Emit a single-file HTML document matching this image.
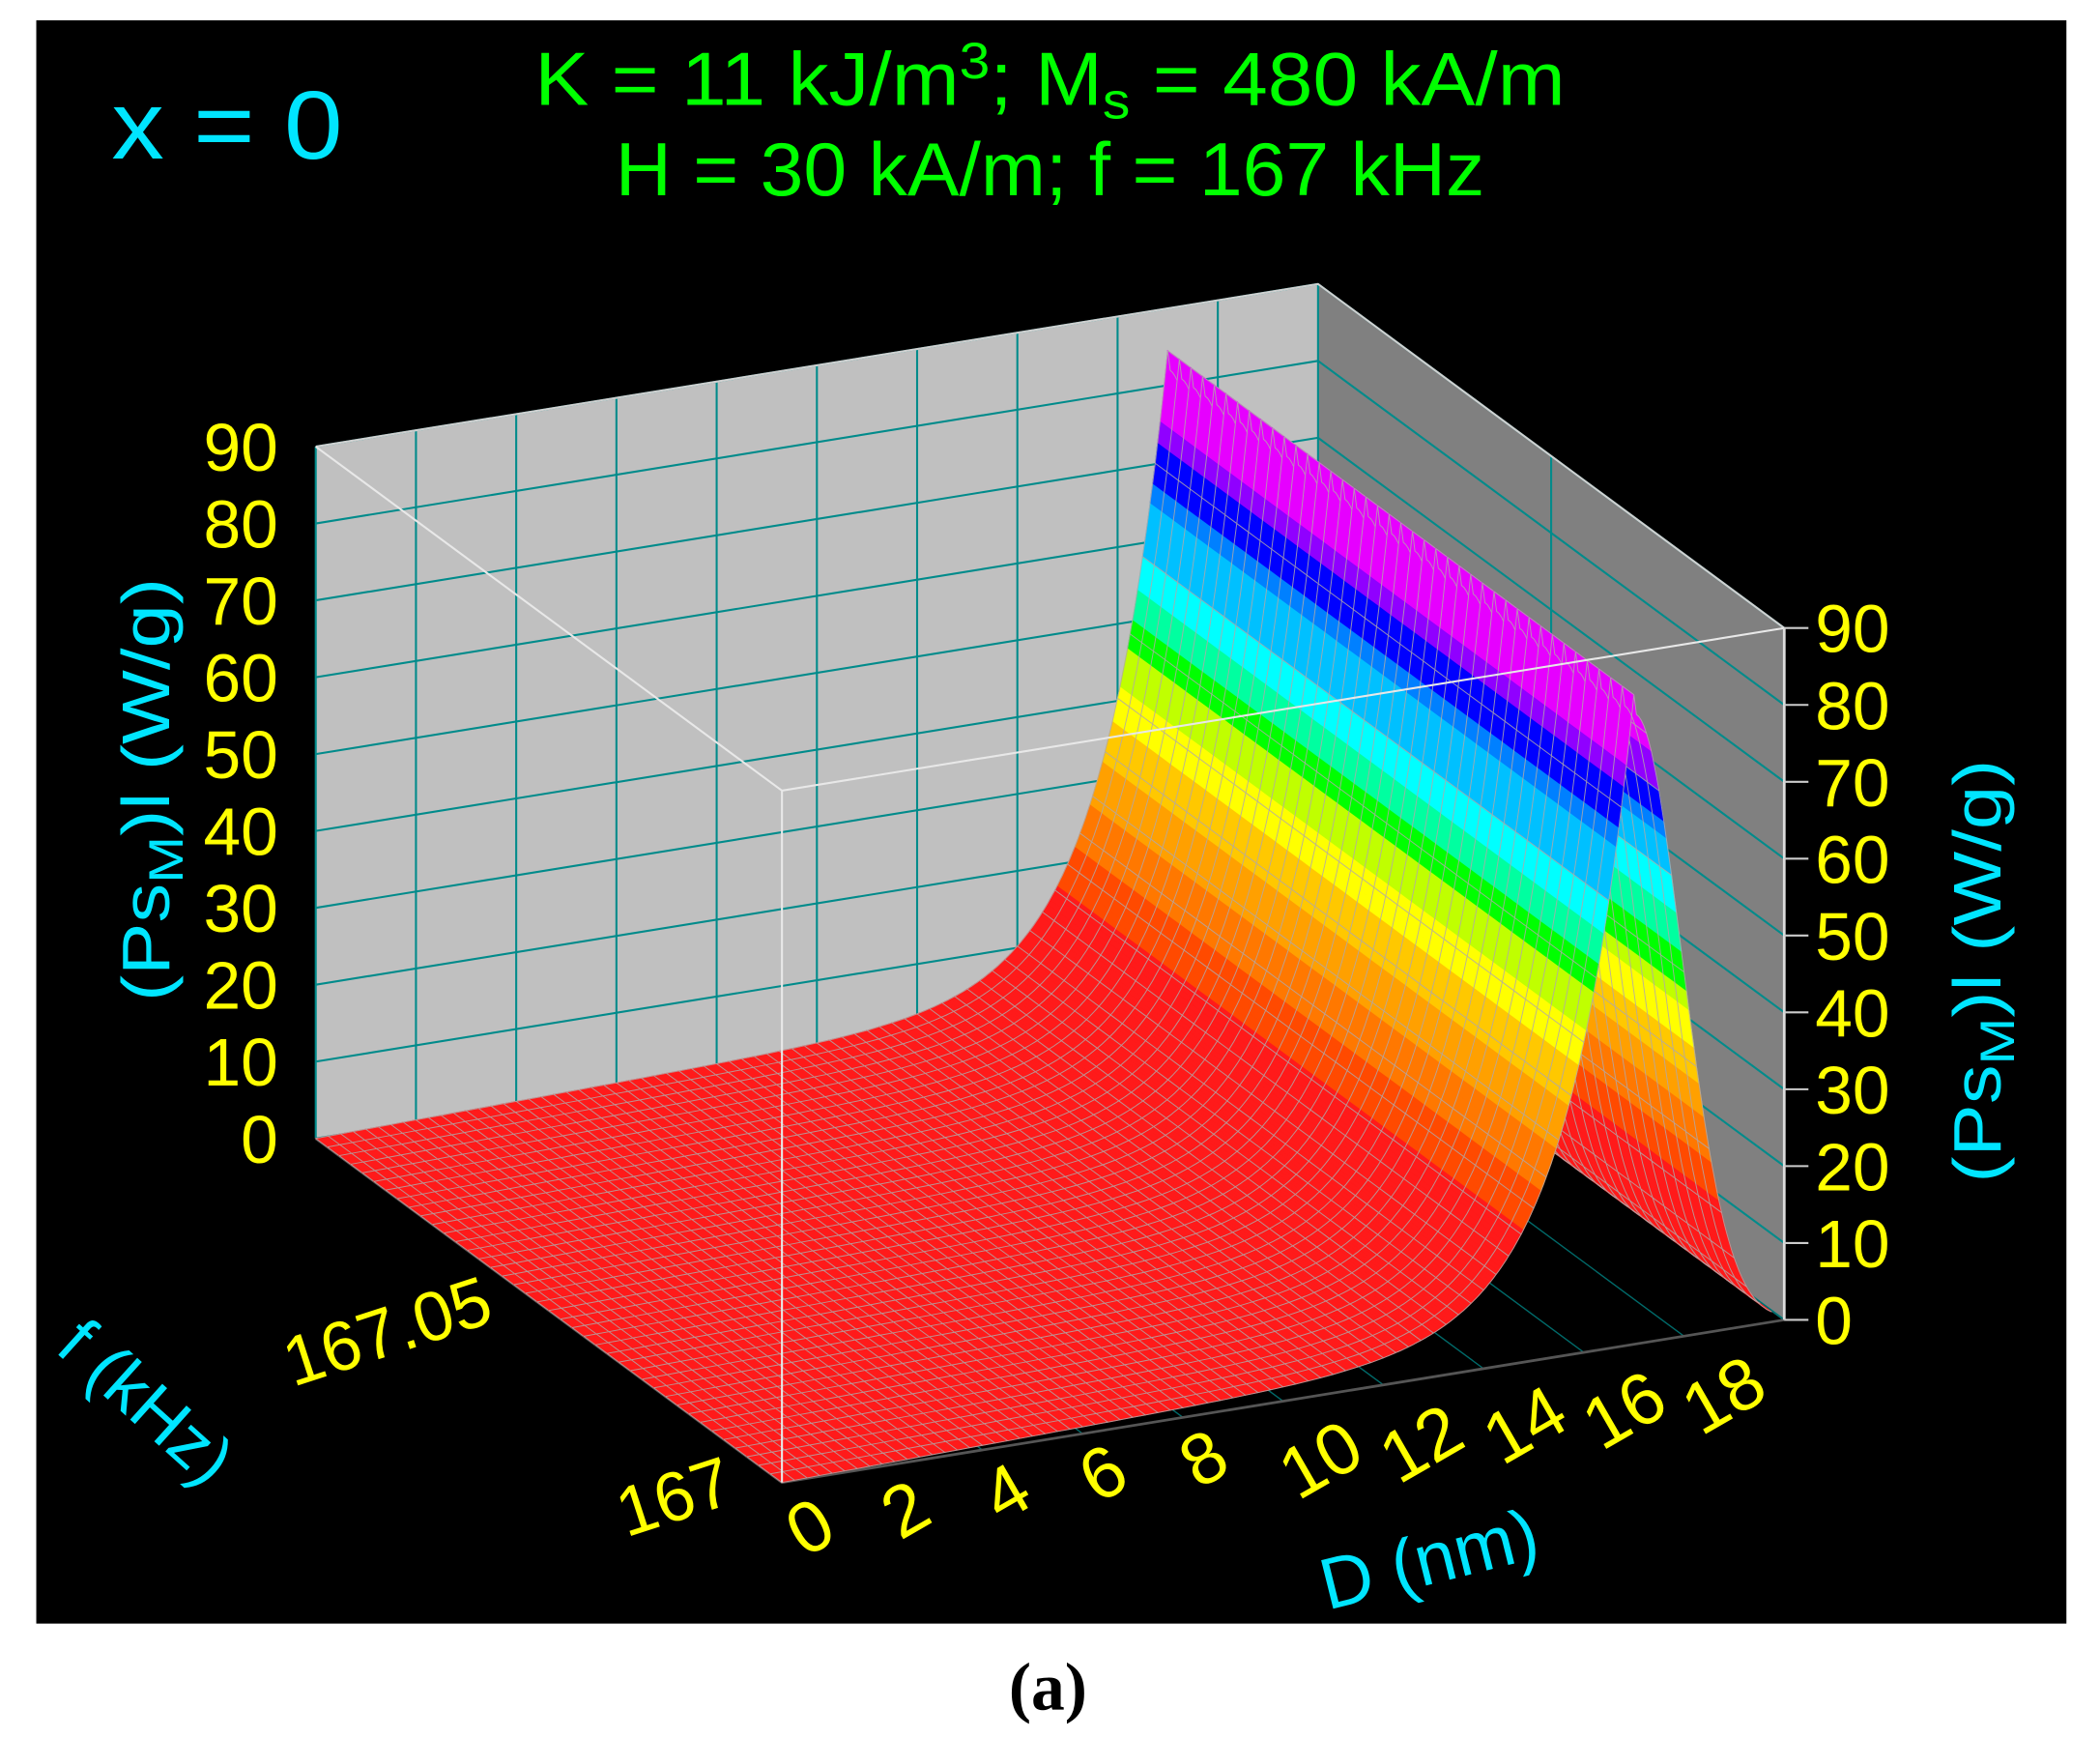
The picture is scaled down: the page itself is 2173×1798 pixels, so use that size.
<!DOCTYPE html>
<html><head><meta charset="utf-8"><style>
html,body{margin:0;padding:0;background:#fff}
svg{display:block}
</style></head><body>
<svg id="s" width="2173" height="1798" viewBox="0 0 1563 1293" xmlns="http://www.w3.org/2000/svg">
<rect x="0" y="0" width="1563" height="1293" fill="#fff"/>
<rect x="27" y="15" width="1511" height="1193" fill="#000"/>
<g id="walls"></g>
<g id="surf"></g>
<g id="front"></g>
<g font-family="Liberation Sans, Arial, sans-serif">
<text x="83" y="118" font-size="72" fill="#00e5ff" textLength="172" lengthAdjust="spacingAndGlyphs">x = 0</text>
<text x="398" y="78" font-size="56" fill="#00ff00" textLength="767" lengthAdjust="spacingAndGlyphs">K = 11 kJ/m<tspan font-size="38" dy="-20">3</tspan><tspan dy="20">;  M</tspan><tspan font-size="38" dy="10">s</tspan><tspan dy="-10"> = 480 kA/m</tspan></text>
<text x="458" y="145" font-size="56" fill="#00ff00" textLength="647" lengthAdjust="spacingAndGlyphs">H = 30 kA/m; f = 167 kHz</text>
<g id="ticks" font-size="50" fill="#ffff00"></g>
<text transform="translate(126,745) rotate(-90)" font-size="50" fill="#00e5ff" textLength="315" lengthAdjust="spacingAndGlyphs">(Ps<tspan font-size="36" dy="10">M</tspan><tspan dy="-10">)l (W/g)</tspan></text>
<text transform="translate(1489,880) rotate(-90)" font-size="50" fill="#00e5ff" textLength="315" lengthAdjust="spacingAndGlyphs">(Ps<tspan font-size="36" dy="10">M</tspan><tspan dy="-10">)l (W/g)</tspan></text>
<text transform="translate(40,1005) rotate(42)" font-size="52" fill="#00e5ff">f (kHz)</text>
<text transform="translate(218,1032) rotate(-18)" font-size="52" fill="#ffff00">167.05</text>
<text transform="translate(466,1144) rotate(-18)" font-size="52" fill="#ffff00">167</text>
<text transform="translate(988,1198) rotate(-14)" font-size="54" fill="#00e5ff">D (nm)</text>
</g>
<text x="780" y="1272" text-anchor="middle" font-family="Liberation Serif, serif" font-weight="bold" font-size="50" fill="#000">(a)</text>
</svg>
<script>
var NS="http://www.w3.org/2000/svg";
function el(p,t,a){var e=document.createElementNS(NS,t);for(var k in a)e.setAttribute(k,a[k]);p.appendChild(e);return e;}
function P(d,u,z){return [582+37.3*d-347*u, 1103-6.05*d-256*u-5.72*z];}
var W=document.getElementById('walls');
function pts(a){return a.map(function(p){return p[0].toFixed(1)+','+p[1].toFixed(1)}).join(' ');}
el(W,'polygon',{points:pts([P(0,1,0),P(20,1,0),P(20,1,90),P(0,1,90)]),fill:'#c0c0c0'});
el(W,'polygon',{points:pts([P(20,1,0),P(20,0,0),P(20,0,90),P(20,1,90)]),fill:'#808080'});
for(var z=0;z<=90;z+=10){var a=P(0,1,z),b=P(20,1,z),c=P(20,0,z);
 el(W,'line',{x1:a[0],y1:a[1],x2:b[0],y2:b[1],stroke:'#008b8b','stroke-width':1.5});
 el(W,'line',{x1:b[0],y1:b[1],x2:c[0],y2:c[1],stroke:'#008b8b','stroke-width':1.5});}
for(var d=0;d<=20;d+=2){var a=P(d,1,0),b=P(d,1,90);el(W,'line',{x1:a[0],y1:a[1],x2:b[0],y2:b[1],stroke:'#008b8b','stroke-width':1.5});
 var f0=P(d,0,0);el(W,'line',{x1:a[0],y1:a[1],x2:f0[0],y2:f0[1],stroke:'#006a6a','stroke-width':1});}
var m1=P(20,0.5,0),m2=P(20,0.5,90);el(W,'line',{x1:m1[0],y1:m1[1],x2:m2[0],y2:m2[1],stroke:'#008b8b','stroke-width':1.5});
var t1=P(0,1,90),t2=P(20,1,90),t3=P(20,0,90);
el(W,'polyline',{points:pts([t1,t2,t3]),fill:'none',stroke:'#d0d0d0','stroke-width':1.5});
var b0=P(0,1,0),b1=P(0,0,0),b2=P(20,0,0);
el(W,'polyline',{points:pts([b0,b1,b2]),fill:'none',stroke:'#555','stroke-width':2});
function zf(d){if(d<=17)return 82*Math.exp(-(17-d)/1.3)+2.5*d/17;var t=(d-17)/1.35;return 82*Math.exp(-t*t);}
function col(z){var s=[[17,'#ff1a1a'],[22,'#ff4a00'],[27,'#ff7800'],[32,'#ffa000'],[37,'#ffc800'],[42,'#ffff00'],[46,'#c0ff00'],[50,'#00ff00'],[54,'#00ffa0'],[59,'#00ffff'],[64,'#00c0ff'],[68,'#0080ff'],[72,'#0000ff'],[76,'#9000ff'],[999,'#e600ff']];for(var i=0;i<s.length;i++)if(z<s[i][0])return s[i][1];}
var S=document.getElementById('surf');var NU=40,DM=19.75;
var ds=[];for(var d=0;d<12;d+=0.25)ds.push(d);for(var d=12;d<DM+1e-6;d+=0.05)ds.push(+d.toFixed(3));
var MS={fill:'none',stroke:'#b0a8a8','stroke-width':0.7,'stroke-opacity':0.85};
function rowLine(u){var pl=[];for(var k=0;k<ds.length;k++)pl.push(P(ds[k],u,zf(ds[k])));var a={points:pts(pl)};for(var q in MS)a[q]=MS[q];el(S,'polyline',a);}
for(var i=NU-1;i>=0;i--){var u0=i/NU,u1=(i+1)/NU;
 for(var k=0;k<ds.length-1;k++){var d=ds[k],d1=ds[k+1],za=zf(d),zb=zf(d1),c=col((za+zb)/2);
  el(S,'polygon',{points:pts([P(d,u0,za),P(d1,u0,zb),P(d1,u1,zb),P(d,u1,za)]),fill:c,stroke:c,'stroke-width':0.6});}
 for(var d=0;d<DM;d+=0.25){var z=zf(d),a=P(d,u0,z),b=P(d,u1,z);el(S,'line',{x1:a[0],y1:a[1],x2:b[0],y2:b[1],stroke:'#b0a8a8','stroke-width':0.7,'stroke-opacity':0.85});}
 rowLine(u1);}
rowLine(0);
var F=document.getElementById('front');
var w1=P(0,1,90),w2=P(0,0,90),w3=P(20,0,90),w4=P(0,0,0);
el(F,'polyline',{points:pts([w1,w2,w3]),fill:'none',stroke:'#e8e8e8','stroke-width':1.5});
el(F,'line',{x1:w2[0],y1:w2[1],x2:w4[0],y2:w4[1],stroke:'#e8e8e8','stroke-width':1.5});
var r1=P(20,0,0),r2=P(20,0,90);el(F,'line',{x1:r1[0],y1:r1[1],x2:r2[0],y2:r2[1],stroke:'#ddd','stroke-width':2});
var T=document.getElementById('ticks');
for(var z=0;z<=90;z+=10){var a=P(0,1,z),b=P(20,0,z);
 var t=el(T,'text',{x:207,y:(a[1]+18).toFixed(1),'text-anchor':'end'});t.textContent=z;
 t=el(T,'text',{x:1351,y:(b[1]+18).toFixed(1)});t.textContent=z;
 el(F,'line',{x1:b[0],y1:b[1],x2:b[0]+18,y2:b[1],stroke:'#ccc','stroke-width':1.5});}
var dl=[[612,1152],[683,1139],[758,1126],[830,1112],[905,1101],[992,1102],[1067,1090],[1144,1076],[1218,1065],[1292,1054]];
for(var k=0;k<10;k++){var t=el(T,'text',{transform:'translate('+dl[k][0]+','+dl[k][1]+') rotate(-30)','text-anchor':'middle','font-size':54});t.textContent=k*2;}
</script>
</body></html>
